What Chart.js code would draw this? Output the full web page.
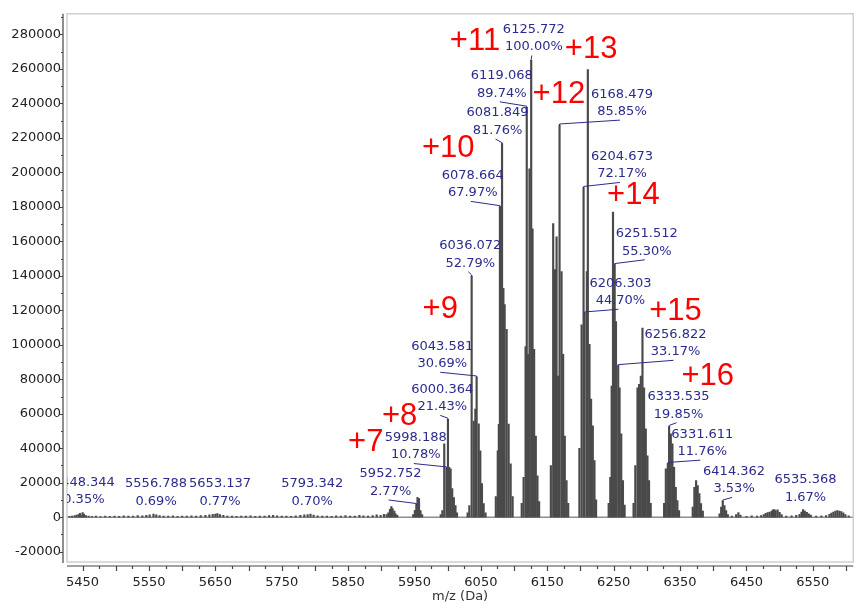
<!DOCTYPE html>
<html>
<head>
<meta charset="utf-8">
<title>Spectrum</title>
<script src="https://cdn.jsdelivr.net/npm/chart.js@4.4.0/dist/chart.umd.min.js"></script>
<style>
  html, body { margin: 0; padding: 0; background: #fff; }
</style>
</head>
<body>
<canvas id="spectrum" width="859" height="604"></canvas>
<script>
// Axis ranges (Da and counts)
const X_MIN = 5426.5, X_MAX = 6610.9;
const Y_MIN = -26000, Y_MAX = 292000;
const BASE_PEAK = 265000; // intensity of the 100% peak

// Tick values
const xTickValues = [];
for (let v = 5450; v <= 6600; v += 25) xTickValues.push(v);
const yTickValues = [];
for (let v = -20000; v <= 290000; v += 10000) yTickValues.push(v);

// Spectrum sticks, [m/z, intensity]
const baseNoise = [[5430,500],[5434,700],[5438,900],[5441,1200],[5444,1500],[5446,2200],[5448.344,930],[5450,2600],[5452,1800],
  [5455,900],[5459,600],[5464,500],[5470,600],[5477,400],[5484,600],[5491,500],[5498,700],[5505,500],[5512,800],[5519,600],
  [5526,700],[5533,900],[5540,800],[5546,1100],[5551,1300],[5556.788,1830],[5561,1400],[5566,900],[5572,700],[5579,600],
  [5586,800],[5593,500],[5600,700],[5607,600],[5614,800],[5621,700],[5628,900],[5635,1100],[5641,1300],[5646,1600],
  [5650,1800],[5653.137,2040],[5657,1500],[5662,1000],[5668,700],[5675,600],[5682,500],[5689,700],[5696,600],[5703,800],
  [5710,500],[5717,600],[5724,700],[5731,900],[5737,1100],[5743,800],[5750,600],[5757,700],[5764,500],[5771,800],
  [5778,1000],[5784,1300],[5789,1500],[5793.342,1855],[5798,1200],[5804,800],[5811,600],[5818,700],[5825,500],[5832,800],
  [5839,600],[5846,900],[5853,700],[5860,600],[5867,1000],[5873,800],[5880,600],[5887,900],[5893,1300],[5899,1100],[5904,1600]];
const peaks5915 = [[5908,1500],[5910.6,2500],[5913,4500],[5915.1,6200],[5917,5000],[5919.6,3500],[5921.5,2000],[5924,1000]];
const peaks5955 = [[5948,1500],[5950.5,4000],[5952.752,7340],[5954.5,11500],[5956.8,10800],[5959,3900],[5961.5,1500]];
const peaks6000 = [[5989.5,1500],[5992,3900],[5994.8,42500],[5998.188,28570],[6000.364,56790],[6002.2,28900],[6004.4,28100],
  [6006.8,16600],[6009.3,11400],[6011.7,6700],[6014,2500]];
const peaks6040 = [[6030,2500],[6032.6,6750],[6036.072,139900],[6039.2,55800],[6041.6,62700],[6043.581,81330],[6046.7,54100],
  [6049.1,38500],[6051.6,19500],[6054.2,7900],[6057,2500]];
const peaks6080 = [[6072.5,12000],[6075.4,38500],[6077,53900],[6078.664,180100],[6081.849,216700],[6083.9,132700],
  [6085.8,123300],[6088.8,108900],[6091.8,54000],[6094.8,31000],[6097.8,12000]];
const peaks6125 = [[6111.5,8000],[6114.3,23100],[6117.3,99000],[6119.068,237800],[6120.8,94500],[6123.2,202000],
  [6125.772,265000],[6127.8,167300],[6130.2,97400],[6132.7,47100],[6135.2,24000],[6137.7,9000]];
const peaks6168 = [[6155.4,30000],[6158.9,170300],[6161.5,143600],[6164,162600],[6166.4,81800],[6168.479,227500],
  [6171.5,142400],[6173.9,94500],[6176.4,47100],[6179,21200],[6181.5,8000]];
const peaks6210 = [[6198.4,40000],[6201.7,111600],[6204.673,191250],[6206.303,118450],[6209.6,142400],[6211.1,259700],
  [6213.6,100200],[6216,68500],[6218.6,53000],[6221.1,32900],[6223.5,10000]];
const peaks6252 = [[6242.5,8000],[6244.9,23100],[6247,76000],[6249,177000],[6251.512,146550],[6253.5,113500],
  [6256.822,87900],[6258.9,75000],[6261.4,48300],[6264,21200],[6266.5,7000]];
const peaks6293 = [[6280,8000],[6282.6,30000],[6285.9,75000],[6288.3,77100],[6290.9,81800],[6293.4,109700],[6295.8,75000],
  [6298.4,51200],[6300.9,35600],[6303.3,21200],[6305.8,8000]];
const peaks6335 = [[6326,8000],[6328.6,28100],[6331.611,31160],[6333.535,52600],[6336.1,48300],[6338.5,42500],[6341,28900],
  [6343.6,17300],[6346,9600],[6348.5,3900]];
const peaks6375 = [[6369.1,5800],[6371.6,17300],[6374.2,21200],[6376.6,18300],[6379.1,13700],[6381.6,7900],[6384.3,3500]];
const peaks6414 = [[6409.5,2000],[6412,5800],[6414.362,9350],[6416.9,6700],[6419.4,3900],[6422,1500]];
const tailNoise = [[6428,700],[6434.5,1500],[6437.9,2700],[6441,1200],[6450,500],[6458,800],[6466,600],[6472,900],[6476,1500],
  [6479,2200],[6482,2600],[6485,3000],[6488,3600],[6490,4200],[6492,4400],[6494,3900],[6497,4300],[6500,2800],[6503,1500],
  [6510,600],[6518,800],[6525,1000],[6530,1600],[6533,3000],[6535.368,4430],[6538,3500],[6541,2800],[6544,2000],[6547,1200],
  [6555,600],[6563,800],[6570,900],[6575,1600],[6578,2400],[6581,3000],[6584,3500],[6587,3900],[6590,3600],[6593,3200],
  [6596,2500],[6599,1500],[6604,800]];

// Peak labels: mass, relative intensity, and where the text sits (data units)
const labelMz = [5448.344, 5556.788, 5653.137, 5793.342, 5952.752, 5998.188, 6000.364, 6043.581, 6036.072, 6078.664, 6081.849,
  6119.068, 6125.772, 6168.479, 6204.673, 6206.303, 6251.512, 6256.822, 6333.535, 6331.611, 6414.362, 6535.368];
const labelPct = [0.35, 0.69, 0.77, 0.70, 2.77, 10.78, 21.43, 30.69, 52.79, 67.97, 81.76,
  89.74, 100.00, 85.85, 72.17, 44.70, 55.30, 33.17, 19.85, 11.76, 3.53, 1.67];
const labelX = [5451.9, 5560.7, 5657.1, 5795.9, 5914.0, 5951.9, 5991.8, 5991.8, 6034.1, 6037.7, 6075.1,
  6081.5, 6129.8, 6262.5, 6262.5, 6260.2, 6299.9, 6343.2, 6347.7, 6383.6, 6431.4, 6539.1];
const labelY = [20200, 19460, 19460, 19460, 25060, 46190, 74140, 99140, 157460, 198280, 234420,
  256020, 282930, 245400, 209250, 135690, 164390, 106070, 69870, 48150, 26560, 21590];

// Charge state labels
const chargeText = ['+7', '+8', '+9', '+10', '+11', '+12', '+13', '+14', '+15', '+16'];
const chargeX = [5876.6, 5927.5, 5988.8, 6000.8, 6041.1, 6167.5, 6216.1, 6279.7, 6343.2, 6391.8];
const chargeY = [43130, 58140, 120500, 213640, 275820, 245400, 271380, 186900, 119350, 81820];

const sticks = [].concat(baseNoise, peaks5915, peaks5955, peaks6000, peaks6040, peaks6080, peaks6125,
  peaks6168, peaks6210, peaks6252, peaks6293, peaks6335, peaks6375, peaks6414, tailNoise)
  .map(p => ({ x: p[0], y: p[1] }));

const TICK_FONT = { family: "'DejaVu Sans'", size: 13 };

// frame, offset axes and the annotations
const spectrumDecor = {
    id: 'spectrumDecor',
    afterDraw(chart) {
        const ctx = chart.ctx;
        const ca = chart.chartArea;
        const xs = chart.scales.x;
        const ys = chart.scales.y;

        ctx.save();
        // plot frame
        ctx.strokeStyle = '#cfcfcf';
        ctx.lineWidth = 1.5;
        ctx.strokeRect(ca.left, ca.top, ca.right - ca.left, ca.bottom - ca.top);

        // axes, a few px outside the frame
        const axisY = ca.bottom + 4;
        const axisX = ca.left - 4;
        ctx.strokeStyle = '#444';
        ctx.lineWidth = 1.2;
        ctx.beginPath();
        ctx.moveTo(ca.left, axisY);
        ctx.lineTo(ca.right, axisY);
        ctx.moveTo(axisX, ca.top);
        ctx.lineTo(axisX, ca.bottom + 1);
        xTickValues.forEach(v => {
            const px = Math.round(xs.getPixelForValue(v)) + 0.5;
            const len = (v - 5450) % 50 === 0 ? 5 : 3;
            ctx.moveTo(px, axisY);
            ctx.lineTo(px, axisY + len);
        });
        yTickValues.forEach(v => {
            const py = Math.round(ys.getPixelForValue(v)) + 0.5;
            const len = v % 20000 === 0 ? 4 : 2;
            ctx.moveTo(axisX - len, py);
            ctx.lineTo(axisX, py);
        });
        ctx.stroke();

        // annotations, clipped to the plot
        ctx.beginPath();
        ctx.rect(ca.left, ca.top, ca.right - ca.left, ca.bottom - ca.top);
        ctx.clip();

        ctx.textAlign = 'center';
        ctx.textBaseline = 'middle';
        ctx.font = "13px 'DejaVu Sans'";
        ctx.fillStyle = '#2b2b8c';
        ctx.strokeStyle = '#2b2b8c';
        ctx.lineWidth = 1;
        labelMz.forEach((mz, i) => {
            const tx = xs.getPixelForValue(labelX[i]);
            const ty = ys.getPixelForValue(labelY[i]);
            ctx.fillText(mz.toFixed(3), tx, ty);
            ctx.fillText(labelPct[i].toFixed(2) + '%', tx, ty + 17.5);
            if (labelPct[i] >= 2) {
                const px = xs.getPixelForValue(mz);
                const py = ys.getPixelForValue(labelPct[i] * BASE_PEAK / 100);
                ctx.beginPath();
                ctx.moveTo(tx - 2, ty + 26);
                ctx.lineTo(px, py - 1);
                ctx.lineTo(px, py + 1);
                ctx.stroke();
            }
        });

        ctx.font = "31px 'Liberation Sans'";
        ctx.fillStyle = '#ff0000';
        chargeText.forEach((t, i) => {
            ctx.fillText(t, xs.getPixelForValue(chargeX[i]), ys.getPixelForValue(chargeY[i]));
        });
        ctx.restore();
    }
};

new Chart(document.getElementById('spectrum'), {
    type: 'bar',
    data: {
        datasets: [
            {
                type: 'line',
                label: 'baseline',
                data: [{ x: X_MIN, y: 0 }, { x: X_MAX, y: 0 }],
                borderColor: '#555',
                borderWidth: 1,
                pointRadius: 0
            },
            {
                label: 'spectrum',
                data: sticks,
                backgroundColor: '#4a4a4a',
                borderWidth: 0,
                barThickness: 1.5,
                grouped: false
            }
        ]
    },
    options: {
        responsive: false,
        animation: false,
        layout: { padding: { top: 11, right: 0, bottom: 0, left: 0 } },
        plugins: {
            legend: { display: false },
            tooltip: { enabled: false }
        },
        scales: {
            x: {
                type: 'linear',
                min: X_MIN,
                max: X_MAX,
                offset: false,
                grid: { display: false, drawTicks: false, offset: false },
                border: { display: false },
                afterBuildTicks: axis => { axis.ticks = xTickValues.map(v => ({ value: v })); },
                afterFit: axis => { axis.height = 42; },
                ticks: {
                    autoSkip: false,
                    maxRotation: 0,
                    padding: 13,
                    color: '#222',
                    font: TICK_FONT,
                    callback: v => ((v - 5450) % 100 === 0 ? String(v) : '')
                },
                title: {
                    display: true,
                    text: 'm/z (Da)',
                    color: '#333',
                    font: TICK_FONT,
                    padding: 0
                }
            },
            y: {
                min: Y_MIN,
                max: Y_MAX,
                grid: { display: false, drawTicks: false },
                border: { display: false },
                afterBuildTicks: axis => { axis.ticks = yTickValues.map(v => ({ value: v })); },
                afterFit: axis => { axis.width = 67; },
                ticks: {
                    autoSkip: false,
                    padding: 6,
                    color: '#222',
                    font: TICK_FONT,
                    callback: v => (v % 20000 === 0 ? String(v) : '')
                }
            }
        }
    },
    plugins: [spectrumDecor]
});
</script>
</body>
</html>
